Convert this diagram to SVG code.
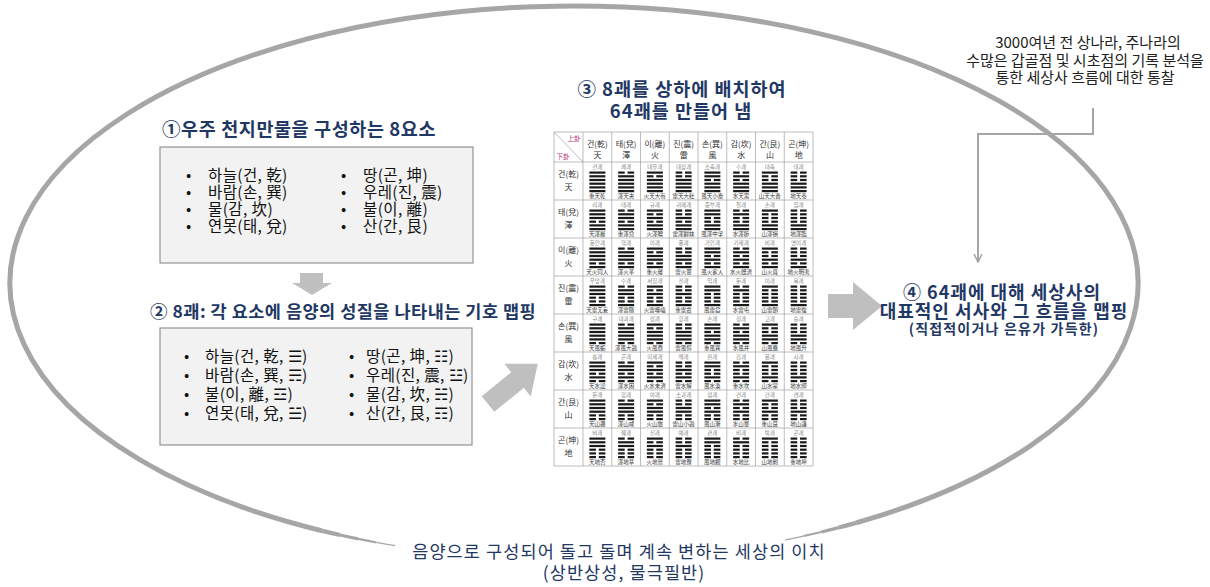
<svg xmlns="http://www.w3.org/2000/svg" width="1210" height="587" viewBox="0 0 1210 587">
<style>
text{font-family:"Noto Sans CJK KR","Noto Sans CJK SC",sans-serif}
.hd{font-weight:700;fill:#1f3864}
.body{fill:#111;font-size:15.5px;letter-spacing:0.4px}
.note{fill:#222;font-size:15px}
.cap{fill:#1f3864;font-size:17.5px;letter-spacing:1.1px}
.th{font-size:8px;fill:#333;text-anchor:middle}
.tl{font-size:5.5px;fill:#888;text-anchor:middle}
.bl{font-size:5.5px;fill:#333;text-anchor:middle}
.ring{fill:none;stroke:#a6a6a6}
.blk{fill:#bfbfbf}
.grid{fill:none;stroke:#a0a0a0;stroke-width:0.7}
.box{fill:#f2f2f2;stroke:#808080;stroke-width:1}
</style>
<defs>
<marker id="chev" viewBox="0 0 10 10" refX="9" refY="5" markerWidth="10" markerHeight="10" markerUnits="userSpaceOnUse" orient="auto">
<path d="M1,1 L9,5 L1,9" fill="none" stroke="#a6a6a6" stroke-width="1.6"/>
</marker>
<g id="Y"><rect width="16" height="2.2" fill="#1a1a1a"/></g>
<g id="N"><rect width="6.6" height="2.2" fill="#1a1a1a"/><rect x="9.4" width="6.6" height="2.2" fill="#1a1a1a"/></g>
<g id="q"><use href="#Y"/><use href="#Y" y="3.7"/><use href="#Y" y="7.4"/></g>
<g id="d"><use href="#N"/><use href="#Y" y="3.7"/><use href="#Y" y="7.4"/></g>
<g id="l"><use href="#Y"/><use href="#N" y="3.7"/><use href="#Y" y="7.4"/></g>
<g id="z"><use href="#N"/><use href="#N" y="3.7"/><use href="#Y" y="7.4"/></g>
<g id="x"><use href="#Y"/><use href="#Y" y="3.7"/><use href="#N" y="7.4"/></g>
<g id="k"><use href="#N"/><use href="#Y" y="3.7"/><use href="#N" y="7.4"/></g>
<g id="g"><use href="#Y"/><use href="#N" y="3.7"/><use href="#N" y="7.4"/></g>
<g id="n"><use href="#N"/><use href="#N" y="3.7"/><use href="#N" y="7.4"/></g>
</defs>
<rect width="1210" height="587" fill="#fff"/>

<g id="ring">
<path class="ring" stroke-width="5" d="M322.34,530.9 A564,277 0 1 1 856,522.89"/>
<path class="ring" stroke-width="4.2" d="M340.11,535.06 A564,277 0 0 1 322.34,530.9"/>
<path class="ring" stroke-width="3.2" d="M358.17,538.91 A564,277 0 0 1 340.11,535.06"/>
<path class="ring" stroke-width="2.2" d="M376.48,542.46 A564,277 0 0 1 358.17,538.91"/>
<path class="ring" stroke-width="1.2" d="M395.04,545.68 A564,277 0 0 1 376.48,542.46"/>
<path class="ring" stroke-width="4.2" d="M856,522.89 A564,277 0 0 1 838.78,527.58"/>
<path class="ring" stroke-width="3.2" d="M838.78,527.58 A564,277 0 0 1 821.24,531.97"/>
<path class="ring" stroke-width="2.2" d="M821.24,531.97 A564,277 0 0 1 803.4,536.05"/>
<path class="ring" stroke-width="1.2" d="M803.4,536.05 A564,277 0 0 1 785.28,539.83"/>
</g>

<g id="connectors">
<polyline points="1093,108 1093,134 978,134 978,262" fill="none" stroke="#a6a6a6" stroke-width="2" marker-end="url(#chev)"/>
<polygon class="blk" points="300,273 323,273 323,283 332,283 312,295 292,283 300,283"/>
<polygon class="blk" transform="translate(488,404) rotate(-39)" points="0,-10 38,-10 38,-21 64,0 38,21 38,10 0,10"/>
<polygon class="blk" points="828,294 853,294 853,282 882,306 853,330 853,318 828,318"/>
</g>

<g id="note-history" class="note" text-anchor="middle">
<text x="1088" y="48">3000여년 전 상나라, 주나라의</text>
<text x="1085" y="65.5">수많은 갑골점 및 시초점의 기록 분석을</text>
<text x="1085" y="83">통한 세상사 흐름에 대한 통찰</text>
</g>

<g id="step1">
<text class="hd" x="162" y="136" font-size="18.5" letter-spacing="0.6">①우주 천지만물을 구성하는 8요소</text>
<rect class="box" x="160" y="147" width="313" height="116"/>
<g class="body">
<text x="186" y="181">•</text><text x="208" y="181">하늘(건, 乾)</text>
<text x="186" y="198">•</text><text x="208" y="198">바람(손, 巽)</text>
<text x="186" y="215">•</text><text x="208" y="215">물(감, 坎)</text>
<text x="186" y="232">•</text><text x="208" y="232">연못(태, 兌)</text>
<text x="341" y="181">•</text><text x="363" y="181">땅(곤, 坤)</text>
<text x="341" y="198">•</text><text x="363" y="198">우레(진, 震)</text>
<text x="341" y="215">•</text><text x="363" y="215">불(이, 離)</text>
<text x="341" y="232">•</text><text x="363" y="232">산(간, 艮)</text>
</g>
</g>

<g id="step2">
<text class="hd" x="150" y="318" font-size="17.5" letter-spacing="0.5">② 8괘: 각 요소에 음양의 성질을 나타내는 기호 맵핑</text>
<rect class="box" x="160" y="328" width="312" height="117"/>
<g class="body" letter-spacing="0">
<text x="184" y="362">•</text><text x="205" y="362">하늘(건, 乾, ☰)</text>
<text x="184" y="381">•</text><text x="205" y="381">바람(손, 巽, ☴)</text>
<text x="184" y="400">•</text><text x="205" y="400">불(이, 離, ☲)</text>
<text x="184" y="419">•</text><text x="205" y="419">연못(태, 兌, ☱)</text>
<text x="349" y="362">•</text><text x="366" y="362">땅(곤, 坤, ☷)</text>
<text x="349" y="381">•</text><text x="366" y="381">우레(진, 震, ☳)</text>
<text x="349" y="400">•</text><text x="366" y="400">물(감, 坎, ☵)</text>
<text x="349" y="419">•</text><text x="366" y="419">산(간, 艮, ☶)</text>
</g>
</g>

<g id="step3">
<text class="hd" x="682" y="96" font-size="18.5" letter-spacing="1" text-anchor="middle">③ 8괘를 상하에 배치하여</text>
<text class="hd" x="681" y="118" font-size="18.5" letter-spacing="1" text-anchor="middle">64괘를 만들어 냄</text>
<rect x="554" y="132" width="259" height="334" fill="#fff"/>
<path class="grid" d="M554,132H813V466H554Z M583,132V466 M611.75,132V466 M640.5,132V466 M669.25,132V466 M698,132V466 M726.75,132V466 M755.5,132V466 M784.25,132V466 M554,162H813 M554,200H813 M554,238H813 M554,276H813 M554,314H813 M554,352H813 M554,390H813 M554,428H813 M554,132L583,162"/>
<text x="574" y="141" font-size="6.5" fill="#c0306a" text-anchor="middle">上卦</text>
<text x="563" y="159" font-size="6.5" fill="#c0306a" text-anchor="middle">下卦</text>
<g class="th">
<text x="597.38" y="147">건(乾)</text><text x="597.38" y="157.5">天</text>
<text x="626.13" y="147">태(兌)</text><text x="626.13" y="157.5">澤</text>
<text x="654.88" y="147">이(離)</text><text x="654.88" y="157.5">火</text>
<text x="683.63" y="147">진(震)</text><text x="683.63" y="157.5">雷</text>
<text x="712.38" y="147">손(巽)</text><text x="712.38" y="157.5">風</text>
<text x="741.13" y="147">감(坎)</text><text x="741.13" y="157.5">水</text>
<text x="769.88" y="147">간(艮)</text><text x="769.88" y="157.5">山</text>
<text x="798.63" y="147">곤(坤)</text><text x="798.63" y="157.5">地</text>
</g>

<g transform="translate(0,162)">
<text class="th" x="568.5" y="15">건(乾)</text><text class="th" x="568.5" y="28">天</text>
<g class="tl"><text x="597.38" y="6.5">건괘</text><text x="626.13" y="6.5">쾌괘</text><text x="654.88" y="6.5">대유괘</text><text x="683.63" y="6.5">대장괘</text><text x="712.38" y="6.5">소축괘</text><text x="741.13" y="6.5">수괘</text><text x="769.88" y="6.5">대축</text><text x="798.63" y="6.5">태괘</text></g>
<use href="#q" x="589.38" y="9.5"/><use href="#d" x="618.13" y="9.5"/><use href="#l" x="646.88" y="9.5"/><use href="#z" x="675.63" y="9.5"/><use href="#x" x="704.38" y="9.5"/><use href="#k" x="733.13" y="9.5"/><use href="#g" x="761.88" y="9.5"/><use href="#n" x="790.63" y="9.5"/>
<use href="#q" x="589.38" y="20.6"/><use href="#q" x="618.13" y="20.6"/><use href="#q" x="646.88" y="20.6"/><use href="#q" x="675.63" y="20.6"/><use href="#q" x="704.38" y="20.6"/><use href="#q" x="733.13" y="20.6"/><use href="#q" x="761.88" y="20.6"/><use href="#q" x="790.63" y="20.6"/>
<g class="bl"><text x="597.38" y="35.5">重天乾</text><text x="626.13" y="35.5">澤天夬</text><text x="654.88" y="35.5">火天大有</text><text x="683.63" y="35.5">雷天大壯</text><text x="712.38" y="35.5">風天小畜</text><text x="741.13" y="35.5">水天需</text><text x="769.88" y="35.5">山天大畜</text><text x="798.63" y="35.5">地天泰</text></g>
</g>

<g transform="translate(0,200)">
<text class="th" x="568.5" y="15">태(兌)</text><text class="th" x="568.5" y="28">澤</text>
<g class="tl"><text x="597.38" y="6.5">리괘</text><text x="626.13" y="6.5">태괘</text><text x="654.88" y="6.5">규괘</text><text x="683.63" y="6.5">귀매괘</text><text x="712.38" y="6.5">중부괘</text><text x="741.13" y="6.5">절괘</text><text x="769.88" y="6.5">손괘</text><text x="798.63" y="6.5">임괘</text></g>
<use href="#q" x="589.38" y="9.5"/><use href="#d" x="618.13" y="9.5"/><use href="#l" x="646.88" y="9.5"/><use href="#z" x="675.63" y="9.5"/><use href="#x" x="704.38" y="9.5"/><use href="#k" x="733.13" y="9.5"/><use href="#g" x="761.88" y="9.5"/><use href="#n" x="790.63" y="9.5"/>
<use href="#d" x="589.38" y="20.6"/><use href="#d" x="618.13" y="20.6"/><use href="#d" x="646.88" y="20.6"/><use href="#d" x="675.63" y="20.6"/><use href="#d" x="704.38" y="20.6"/><use href="#d" x="733.13" y="20.6"/><use href="#d" x="761.88" y="20.6"/><use href="#d" x="790.63" y="20.6"/>
<g class="bl"><text x="597.38" y="35.5">天澤履</text><text x="626.13" y="35.5">重澤兌</text><text x="654.88" y="35.5">火澤睽</text><text x="683.63" y="35.5">雷澤歸妹</text><text x="712.38" y="35.5">風澤中孚</text><text x="741.13" y="35.5">水澤節</text><text x="769.88" y="35.5">山澤損</text><text x="798.63" y="35.5">地澤臨</text></g>
</g>

<g transform="translate(0,238)">
<text class="th" x="568.5" y="15">이(離)</text><text class="th" x="568.5" y="28">火</text>
<g class="tl"><text x="597.38" y="6.5">동인괘</text><text x="626.13" y="6.5">혁괘</text><text x="654.88" y="6.5">이괘</text><text x="683.63" y="6.5">풍괘</text><text x="712.38" y="6.5">가인괘</text><text x="741.13" y="6.5">기제괘</text><text x="769.88" y="6.5">비괘</text><text x="798.63" y="6.5">명이괘</text></g>
<use href="#q" x="589.38" y="9.5"/><use href="#d" x="618.13" y="9.5"/><use href="#l" x="646.88" y="9.5"/><use href="#z" x="675.63" y="9.5"/><use href="#x" x="704.38" y="9.5"/><use href="#k" x="733.13" y="9.5"/><use href="#g" x="761.88" y="9.5"/><use href="#n" x="790.63" y="9.5"/>
<use href="#l" x="589.38" y="20.6"/><use href="#l" x="618.13" y="20.6"/><use href="#l" x="646.88" y="20.6"/><use href="#l" x="675.63" y="20.6"/><use href="#l" x="704.38" y="20.6"/><use href="#l" x="733.13" y="20.6"/><use href="#l" x="761.88" y="20.6"/><use href="#l" x="790.63" y="20.6"/>
<g class="bl"><text x="597.38" y="35.5">天火同人</text><text x="626.13" y="35.5">澤火革</text><text x="654.88" y="35.5">重火離</text><text x="683.63" y="35.5">雷火豐</text><text x="712.38" y="35.5">風火家人</text><text x="741.13" y="35.5">水火旣濟</text><text x="769.88" y="35.5">山火賁</text><text x="798.63" y="35.5">地火明夷</text></g>
</g>

<g transform="translate(0,276)">
<text class="th" x="568.5" y="15">진(震)</text><text class="th" x="568.5" y="28">雷</text>
<g class="tl"><text x="597.38" y="6.5">무망괘</text><text x="626.13" y="6.5">수괘</text><text x="654.88" y="6.5">서합괘</text><text x="683.63" y="6.5">진괘</text><text x="712.38" y="6.5">익괘</text><text x="741.13" y="6.5">둔괘</text><text x="769.88" y="6.5">이괘</text><text x="798.63" y="6.5">복괘</text></g>
<use href="#q" x="589.38" y="9.5"/><use href="#d" x="618.13" y="9.5"/><use href="#l" x="646.88" y="9.5"/><use href="#z" x="675.63" y="9.5"/><use href="#x" x="704.38" y="9.5"/><use href="#k" x="733.13" y="9.5"/><use href="#g" x="761.88" y="9.5"/><use href="#n" x="790.63" y="9.5"/>
<use href="#z" x="589.38" y="20.6"/><use href="#z" x="618.13" y="20.6"/><use href="#z" x="646.88" y="20.6"/><use href="#z" x="675.63" y="20.6"/><use href="#z" x="704.38" y="20.6"/><use href="#z" x="733.13" y="20.6"/><use href="#z" x="761.88" y="20.6"/><use href="#z" x="790.63" y="20.6"/>
<g class="bl"><text x="597.38" y="35.5">天雷无妄</text><text x="626.13" y="35.5">澤雷隨</text><text x="654.88" y="35.5">火雷噬嗑</text><text x="683.63" y="35.5">重雷震</text><text x="712.38" y="35.5">風雷益</text><text x="741.13" y="35.5">水雷屯</text><text x="769.88" y="35.5">山雷頤</text><text x="798.63" y="35.5">地雷復</text></g>
</g>

<g transform="translate(0,314)">
<text class="th" x="568.5" y="15">손(巽)</text><text class="th" x="568.5" y="28">風</text>
<g class="tl"><text x="597.38" y="6.5">구괘</text><text x="626.13" y="6.5">대과괘</text><text x="654.88" y="6.5">정괘</text><text x="683.63" y="6.5">항괘</text><text x="712.38" y="6.5">손괘</text><text x="741.13" y="6.5">정괘</text><text x="769.88" y="6.5">고괘</text><text x="798.63" y="6.5">승괘</text></g>
<use href="#q" x="589.38" y="9.5"/><use href="#d" x="618.13" y="9.5"/><use href="#l" x="646.88" y="9.5"/><use href="#z" x="675.63" y="9.5"/><use href="#x" x="704.38" y="9.5"/><use href="#k" x="733.13" y="9.5"/><use href="#g" x="761.88" y="9.5"/><use href="#n" x="790.63" y="9.5"/>
<use href="#x" x="589.38" y="20.6"/><use href="#x" x="618.13" y="20.6"/><use href="#x" x="646.88" y="20.6"/><use href="#x" x="675.63" y="20.6"/><use href="#x" x="704.38" y="20.6"/><use href="#x" x="733.13" y="20.6"/><use href="#x" x="761.88" y="20.6"/><use href="#x" x="790.63" y="20.6"/>
<g class="bl"><text x="597.38" y="35.5">天風姤</text><text x="626.13" y="35.5">澤風大過</text><text x="654.88" y="35.5">火風鼎</text><text x="683.63" y="35.5">雷風恒</text><text x="712.38" y="35.5">重風巽</text><text x="741.13" y="35.5">水風井</text><text x="769.88" y="35.5">山風蠱</text><text x="798.63" y="35.5">地風升</text></g>
</g>

<g transform="translate(0,352)">
<text class="th" x="568.5" y="15">감(坎)</text><text class="th" x="568.5" y="28">水</text>
<g class="tl"><text x="597.38" y="6.5">송괘</text><text x="626.13" y="6.5">곤괘</text><text x="654.88" y="6.5">미제괘</text><text x="683.63" y="6.5">해괘</text><text x="712.38" y="6.5">환괘</text><text x="741.13" y="6.5">감괘</text><text x="769.88" y="6.5">몽괘</text><text x="798.63" y="6.5">사괘</text></g>
<use href="#q" x="589.38" y="9.5"/><use href="#d" x="618.13" y="9.5"/><use href="#l" x="646.88" y="9.5"/><use href="#z" x="675.63" y="9.5"/><use href="#x" x="704.38" y="9.5"/><use href="#k" x="733.13" y="9.5"/><use href="#g" x="761.88" y="9.5"/><use href="#n" x="790.63" y="9.5"/>
<use href="#k" x="589.38" y="20.6"/><use href="#k" x="618.13" y="20.6"/><use href="#k" x="646.88" y="20.6"/><use href="#k" x="675.63" y="20.6"/><use href="#k" x="704.38" y="20.6"/><use href="#k" x="733.13" y="20.6"/><use href="#k" x="761.88" y="20.6"/><use href="#k" x="790.63" y="20.6"/>
<g class="bl"><text x="597.38" y="35.5">天水訟</text><text x="626.13" y="35.5">澤水困</text><text x="654.88" y="35.5">火水未濟</text><text x="683.63" y="35.5">雷水解</text><text x="712.38" y="35.5">風水渙</text><text x="741.13" y="35.5">重水坎</text><text x="769.88" y="35.5">山水蒙</text><text x="798.63" y="35.5">地水師</text></g>
</g>

<g transform="translate(0,390)">
<text class="th" x="568.5" y="15">간(艮)</text><text class="th" x="568.5" y="28">山</text>
<g class="tl"><text x="597.38" y="6.5">둔괘</text><text x="626.13" y="6.5">함괘</text><text x="654.88" y="6.5">여괘</text><text x="683.63" y="6.5">소과괘</text><text x="712.38" y="6.5">점괘</text><text x="741.13" y="6.5">건괘</text><text x="769.88" y="6.5">간괘</text><text x="798.63" y="6.5">겸괘</text></g>
<use href="#q" x="589.38" y="9.5"/><use href="#d" x="618.13" y="9.5"/><use href="#l" x="646.88" y="9.5"/><use href="#z" x="675.63" y="9.5"/><use href="#x" x="704.38" y="9.5"/><use href="#k" x="733.13" y="9.5"/><use href="#g" x="761.88" y="9.5"/><use href="#n" x="790.63" y="9.5"/>
<use href="#g" x="589.38" y="20.6"/><use href="#g" x="618.13" y="20.6"/><use href="#g" x="646.88" y="20.6"/><use href="#g" x="675.63" y="20.6"/><use href="#g" x="704.38" y="20.6"/><use href="#g" x="733.13" y="20.6"/><use href="#g" x="761.88" y="20.6"/><use href="#g" x="790.63" y="20.6"/>
<g class="bl"><text x="597.38" y="35.5">天山遯</text><text x="626.13" y="35.5">澤山咸</text><text x="654.88" y="35.5">火山旅</text><text x="683.63" y="35.5">雷山小過</text><text x="712.38" y="35.5">風山漸</text><text x="741.13" y="35.5">水山蹇</text><text x="769.88" y="35.5">重山艮</text><text x="798.63" y="35.5">地山謙</text></g>
</g>

<g transform="translate(0,428)">
<text class="th" x="568.5" y="15">곤(坤)</text><text class="th" x="568.5" y="28">地</text>
<g class="tl"><text x="597.38" y="6.5">비괘</text><text x="626.13" y="6.5">췌괘</text><text x="654.88" y="6.5">진괘</text><text x="683.63" y="6.5">예괘</text><text x="712.38" y="6.5">관괘</text><text x="741.13" y="6.5">비괘</text><text x="769.88" y="6.5">박괘</text><text x="798.63" y="6.5">곤괘</text></g>
<use href="#q" x="589.38" y="9.5"/><use href="#d" x="618.13" y="9.5"/><use href="#l" x="646.88" y="9.5"/><use href="#z" x="675.63" y="9.5"/><use href="#x" x="704.38" y="9.5"/><use href="#k" x="733.13" y="9.5"/><use href="#g" x="761.88" y="9.5"/><use href="#n" x="790.63" y="9.5"/>
<use href="#n" x="589.38" y="20.6"/><use href="#n" x="618.13" y="20.6"/><use href="#n" x="646.88" y="20.6"/><use href="#n" x="675.63" y="20.6"/><use href="#n" x="704.38" y="20.6"/><use href="#n" x="733.13" y="20.6"/><use href="#n" x="761.88" y="20.6"/><use href="#n" x="790.63" y="20.6"/>
<g class="bl"><text x="597.38" y="35.5">天地否</text><text x="626.13" y="35.5">澤地萃</text><text x="654.88" y="35.5">火地晉</text><text x="683.63" y="35.5">雷地豫</text><text x="712.38" y="35.5">風地觀</text><text x="741.13" y="35.5">水地比</text><text x="769.88" y="35.5">山地剝</text><text x="798.63" y="35.5">重地坤</text></g>
</g>
</g>

<g id="step4" class="hd" text-anchor="middle">
<text x="1002" y="299" font-size="18" letter-spacing="1">④ 64괘에 대해 세상사의</text>
<text x="1004" y="317.5" font-size="18" letter-spacing="1">대표적인 서사와 그 흐름을 맵핑</text>
<text x="1004" y="334" font-size="14" letter-spacing="1.2">(직접적이거나 은유가 가득한)</text>
</g>

<g id="bottom-caption" class="cap" text-anchor="middle">
<text x="619" y="558">음양으로 구성되어 돌고 돌며 계속 변하는 세상의 이치</text>
<text x="624" y="579">(상반상성, 물극필반)</text>
</g>
</svg>
